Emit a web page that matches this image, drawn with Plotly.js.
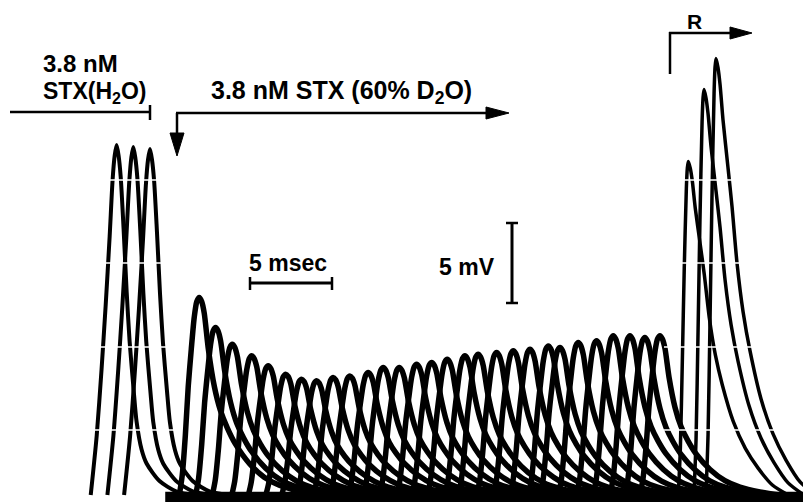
<!DOCTYPE html>
<html>
<head>
<meta charset="utf-8">
<script src="https://cdn.plot.ly/plotly-3.0.1.min.js"></script>
<style>html,body{margin:0;padding:0;background:#fff;}#chart{width:803px;height:502px;}</style>
</head>
<body>
<div id="chart"></div>
<script>
// ---- Data (time in ms, voltage in mV above resting baseline) ----
// Control spikes in 3.8 nM STX (H2O)
const leftPeakTime = [7.20, 8.23, 9.26];
const leftPeakAmp  = [22.15, 22.03, 21.90];
// Spikes after switching to 3.8 nM STX (60% D2O)
const midPeakTime = [12.30, 13.31, 14.34, 15.54, 16.56, 17.64, 18.62, 19.55, 20.57, 21.60,
                     22.73, 23.66, 24.65, 25.72, 26.65, 27.61, 28.70, 29.52, 30.66, 31.69,
                     32.72, 33.85, 34.57, 35.70, 36.83, 37.86, 38.89, 39.81, 40.74];
const midPeakAmp  = [12.50, 10.60, 9.54, 8.81, 8.18, 7.65, 7.33, 7.23, 7.44, 7.54,
                     7.75, 8.07, 8.07, 8.28, 8.39, 8.59, 8.81, 8.91, 9.02, 9.13,
                     9.23, 9.44, 9.34, 9.65, 9.76, 10.08, 10.08, 9.97, 10.08];
// Recovery (R) spikes
const rightPeakTime = [42.49, 43.46, 44.20];
const rightPeakAmp  = [21.11, 25.66, 27.63];

// Spike waveform templates: time offset from peak (ms), fraction of peak
const leftShapeT = [-1.60,-1.23,-0.93,-0.68,-0.43,-0.25,-0.12,0,0.12,0.25,0.43,0.62,0.80,1.05,1.23,1.54,1.85,2.65,3.70,4.94];
const leftShapeV = [0,0.17,0.36,0.54,0.74,0.9,0.97,1,0.97,0.91,0.76,0.58,0.44,0.30,0.21,0.13,0.09,0.04,0.01,0];
const midShapeT  = [-1.23,-1.05,-0.86,-0.68,-0.49,-0.31,-0.15,0,0.15,0.31,0.56,0.93,1.30,1.73,2.22,3.09,4.01,4.94,6.17,7.41];
const midShapeV  = [0,0.1,0.3,0.55,0.74,0.9,0.98,1,0.98,0.92,0.74,0.55,0.43,0.34,0.26,0.16,0.09,0.05,0.02,0];
const rightShapeT = [-0.62,-0.49,-0.37,-0.25,-0.12,-0.06,0,0.12,0.25,0.43,0.74,0.99,1.30,1.67,2.10,2.78,3.52,4.32,5.19,6.17];
const rightShapeV = [0,0.14,0.4,0.68,0.92,0.98,1,0.98,0.94,0.86,0.75,0.66,0.53,0.42,0.33,0.22,0.14,0.08,0.03,0];

// Superimposed sweep baseline
const baselineTime = [10.2, 49.6];
const baselineLevel = [-0.2, -0.2];

// ---- Build traces ----
const traces = [];
function addSpikes(times, amps, shapeT, shapeV, lw) {
  times.forEach((t0, i) => {
    traces.push({
      type: 'scatter', mode: 'lines',
      x: shapeT.map(u => t0 + u),
      y: shapeV.map(v => v * amps[i]),
      line: {color: '#000', width: lw, shape: 'spline', smoothing: 0.7},
      hoverinfo: 'skip'
    });
  });
}
traces.push({type:'scatter', mode:'lines', x: baselineTime, y: baselineLevel,
  line:{color:'#000', width:13}, hoverinfo:'skip'});
addSpikes(leftPeakTime, leftPeakAmp, leftShapeT, leftShapeV, 4);
addSpikes(midPeakTime, midPeakAmp, midShapeT, midShapeV, 5.5);
addSpikes(rightPeakTime, rightPeakAmp, rightShapeT, rightShapeV, 3.5);

// ---- Layout helpers (paper coords from pixel positions) ----
const W = 803, H = 502;
const X = px => px / W;
const Y = py => 1 - py / H;
function seg(x0, y0, x1, y1, w, color) {
  return {type:'line', xref:'paper', yref:'paper', x0:X(x0), y0:Y(y0), x1:X(x1), y1:Y(y1),
          line:{color: color || '#000', width: w}, layer:'above'};
}
function tri(pts) {
  const d = 'M ' + pts.map(p => X(p[0]) + ',' + Y(p[1])).join(' L ') + ' Z';
  return {type:'path', xref:'paper', yref:'paper', path:d, fillcolor:'#000', line:{color:'#000', width:1}, layer:'above'};
}

const shapes = [];
// white scan gaps on the steep traces
[180, 263, 347, 430].forEach(gy => {
  shapes.push(seg(80, gy, 176, gy, 1.5, '#fff'));
  shapes.push(seg(664, gy, 803, gy, 1.5, '#fff'));
});
// H2O bar
shapes.push(seg(10, 112, 150, 112, 2.5));
shapes.push(seg(150, 105, 150, 120, 2.5));
// D2O arrow
shapes.push(seg(177, 113, 177, 136, 2.5));
shapes.push(seg(176, 113, 490, 113, 2.5));
shapes.push(tri([[170,133],[184,133],[177,156]]));
shapes.push(tri([[486,107],[486,119],[509,113]]));
// 5 msec bar
shapes.push(seg(250, 283, 332, 283, 3));
shapes.push(seg(250, 277, 250, 290, 2.5));
shapes.push(seg(332, 277, 332, 290, 2.5));
// 5 mV bar
shapes.push(seg(512, 223, 512, 303, 3));
shapes.push(seg(506, 223, 518, 223, 2.5));
shapes.push(seg(506, 303, 518, 303, 2.5));
// R bracket arrow
shapes.push(seg(670, 32, 670, 74, 2.5));
shapes.push(seg(669, 33, 732, 33, 2.5));
shapes.push(tri([[730,27],[730,39],[752,33]]));

const font = {family: 'Liberation Sans, Arial, sans-serif', size: 23, color: '#000', weight: 'bold'};
function label(text, px, py, xanchor, size) {
  return {text: text, xref:'paper', yref:'paper', x: X(px), y: Y(py), xanchor: xanchor || 'left', yanchor:'middle',
          showarrow:false, font: Object.assign({}, font, size ? {size:size} : {})};
}
const annotations = [
  label('3.8 nM', 41, 63, 'left', 24),
  label('STX(H<sub>2</sub>O)', 41, 92, 'left', 23),
  label('3.8 nM STX (60% D<sub>2</sub>O)', 209, 92, 'left', 25),
  label('5 msec', 247, 263, 'left', 23),
  label('5 mV', 437, 267, 'left', 23),
  label('R', 694, 22, 'center', 21)
];

const layout = {
  width: W, height: H,
  margin: {l:0, r:0, t:0, b:0},
  paper_bgcolor: '#fff', plot_bgcolor: '#fff',
  showlegend: false,
  xaxis: {range: [0, 49.57], visible: false, fixedrange: true},
  yaxis: {range: [-0.44, 31.33], visible: false, fixedrange: true},
  shapes: shapes,
  annotations: annotations
};
Plotly.newPlot('chart', traces, layout, {staticPlot: true, displayModeBar: false});
</script>
</body>
</html>
